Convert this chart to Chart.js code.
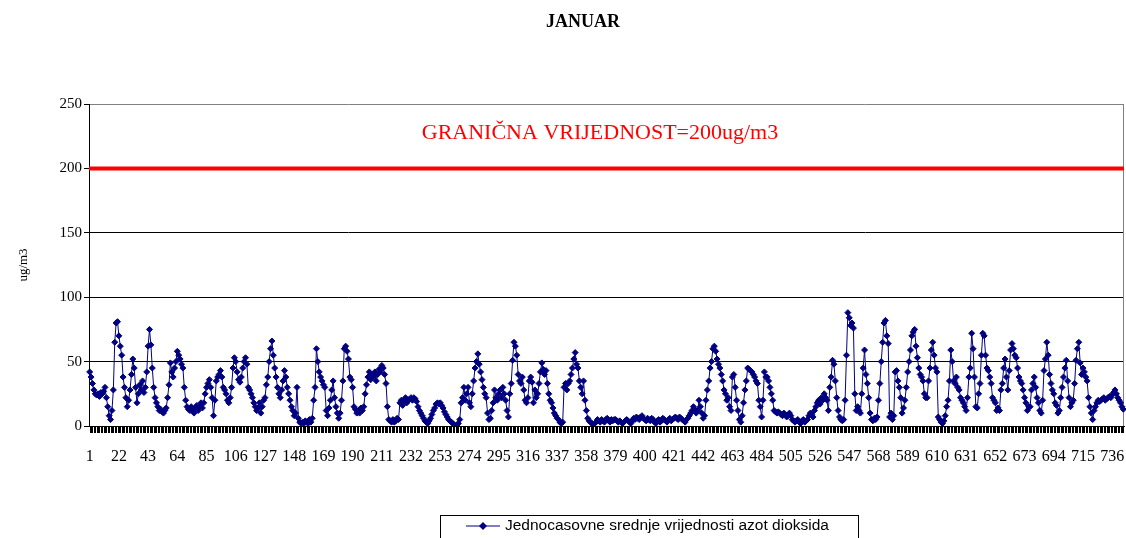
<!DOCTYPE html>
<html>
<head>
<meta charset="utf-8">
<title>JANUAR</title>
<script src="https://cdn.jsdelivr.net/npm/chart.js@4/dist/chart.umd.min.js"></script>
<style>
  html, body { margin: 0; padding: 0; background: #fff; }
</style>
</head>
<body>
<canvas id="chart" width="1126" height="538"></canvas>
<script>
// ===== DATA =====
const chartTitle = "JANUAR";
const yAxisTitle = "ug/m3";
const seriesName = "Jednocasovne srednje vrijednosti azot dioksida";
const limitValue = 200;
const limitText = "GRANIČNA VRIJEDNOST=200ug/m3";
const limitTextValue = 227;   // visina natpisa (ug/m3)

const yTicks = [0, 50, 100, 150, 200, 250];
const xTickLabels = [1, 22, 43, 64, 85, 106, 127, 148, 169, 190, 211, 232, 253, 274, 295, 316,
  337, 358, 379, 400, 421, 442, 463, 484, 505, 526, 547, 568, 589, 610, 631, 652, 673, 694, 715, 736];

// jednocasovne vrijednosti NO2, januar (744 sata), procitano sa grafika
const no2 = [
  // 1 - 78
  42,38,33,28,25, 24,25,23,26, 25,27,30,22, 15,8,5,12, 28,65,80,81,70,62,55,
  38,30,22,15,20, 28,40,52,45, 30,18,25,32, 28,35,26,30, 42,62,75,63,
  45,30,22,18,15, 12,13,11,10,12,14, 22,32,49,42, 38,45,50,58,55, 52,48,45,
  30,20,15,13,12,15, 12,10,14,16,
  // 79 - 153
  12,15,18,14, 18,25,30,33,36,30,22,8,20, 35,38,40,43,38, 30,28,25,20,18,22,30,
  45,53,50,42, 36,34,38,45,50,53,48, 30,28,25,22, 18,15,12,14,18,10,15,20,
  22,32, 38,50,60,66, 55,45,38, 30,25,22,28, 35,43,38, 30,25,20,15,12,8,10,30,6,3,2,
  // 154 - 228
  3,2,4,3,2,5,3,6, 20,30,60,50,42, 38,35,32,30, 12,8,14, 20,28,35,22, 15,10,6,10,
  20,35,60,62,58,52, 38,36,30, 15,13,10,12,10,14,12,15, 25,32,38,42,
  36,40,38,42,35,40,44,42,47,45,40, 33,15,5, 4,3,5,3,4,6,5, 18,20,16,20,22,
  // 229 - 303
  18,20,21,22,20, 22,21,19,15,12, 10,8,6,4,3,2,4, 6,9,12,14,17,18,17,
  18,16,14,11,9,7,5, 4,3,2,1,0,1,2, 5,18,22,30, 20,25,30,18,15,25,
  35,45,50,56,48,42, 36,30,25, 22,10,5, 6,12,18, 28,22,20,25, 28,22,30,25,20,12,7,25,
  // 304 - 378
  33,51,65,62,55, 40,35,33,38, 28,20,18,22,35, 38,34,18, 28,22,25,33, 42,49,44,40,43,
  33,25,20,18, 14,10,8,6,5,3,2,3, 30,33,28, 33,35,40,45,52,57, 48,45,35,30,25,35,
  20,12, 6,4,3,2,1,2,3,5,4,3,5,4,3,5,6,4,3,5,4,5,
  // 379 - 452
  5,4,3,4,3,2,3,4,5,4,3,2, 4,6,5,7,6,5,7,8,6,5,4,6,
  5,4,6,5,3,2,4,5,3,4,6,5,4,3,5,6,4,5, 6,7,6,5,7,6,5,4,3,5,
  6,8,10,12,15,13,10,12, 20,15,10,6,8,20, 28,35,45,50,60,62,58,52,
  // 453 - 527
  48,45,40,35, 28,25,20,22, 15,12, 38,40,30, 20,12, 5,3,8, 18,28,35, 45,44,43,42,
  40,38,35,33,20,15, 7,20,42,38, 38,35,30,25,20, 12,11,10,11, 10,9,8,10,9,7,8,10,8,
  5,4,3,4,5,3,2,4,5,3,4,5, 8,10,9,7,12, 15,18,20,17,22,
  // 528 - 602
  20,25,22,20,12, 30,38,51,48,35, 22,12, 7,5,4,5, 20,55,88,84,78,80,76, 25,12,15,12,10,
  25,45,59,40,33,22, 10,5,4,6,5,7, 20,33,50, 65,80,82,70,64, 7,10,5,8, 42,43,35,30,
  22,10,14, 20,30,42,50, 59,70,73,75, 62,53,45,40, 38,35,25,22,
  // 603 - 676
  22,35,45,59,65,55,45,42, 7,5,3,2,4, 8,15,20,35, 59,50,35,33,38, 30,28,22,20,18,
  15,12,22, 38,45,72,60, 38,15,14, 25,33,55,72,70, 55,45,43, 38,33,22,20, 18,12,14,12,
  28,33,45,52, 38,28,43, 59,64,60, 55,53,45,38,35, 33,28,22,18,12,15,
  // 677 - 744
  15,28,33,38,30, 22,18,12,10, 20,43,52,65,55, 40,33,28,25, 18,16,10,12,22, 30,38,45,
  51,35, 22,15,18,20, 33,51,60,65, 49,40,45,42, 38,35,22,15, 10,5, 12,15,18,20,19,
  20,21,22,20,21,22,23,22,24,26,28,25,22, 20,18,15,13
];

// kategorije = redni broj sata
const hours = no2.map((_, i) => i + 1);

const navy = '#000080';
const serif = "'Liberation Serif', 'Times New Roman', serif";
const sans = "'Liberation Sans', Arial, sans-serif";

// ===== PLUGIN: naslov, granicna vrijednost, okvir, crtice na x osi =====
const limitPlugin = {
  id: 'limitLine',
  beforeDatasetsDraw(chart) {
    const { ctx, chartArea, scales } = chart;
    const y = scales.y.getPixelForValue(limitValue);
    ctx.save();

    // naslov
    ctx.fillStyle = '#000';
    ctx.font = "bold 18px " + serif;
    ctx.textAlign = 'center';
    ctx.textBaseline = 'middle';
    ctx.fillText(chartTitle, 583, 22);

    // desni okvir (sivi)
    ctx.strokeStyle = '#808080';
    ctx.lineWidth = 1;
    ctx.beginPath();
    ctx.moveTo(chartArea.right - 0.5, chartArea.top);
    ctx.lineTo(chartArea.right - 0.5, chartArea.bottom);
    ctx.stroke();

    // crtice za svaku kategoriju ispod x ose
    ctx.strokeStyle = '#000';
    ctx.beginPath();
    scales.x.ticks.forEach((t, i) => {
      const x = Math.round(scales.x.getPixelForTick(i)) + 0.5;
      ctx.moveTo(x, chartArea.bottom);
      ctx.lineTo(x, chartArea.bottom + 7);
    });
    ctx.stroke();

    // crvena linija
    ctx.strokeStyle = '#ff0000';
    ctx.lineWidth = 4;
    ctx.beginPath();
    ctx.moveTo(chartArea.left, y);
    ctx.lineTo(chartArea.right, y);
    ctx.stroke();

    // natpis
    ctx.fillStyle = '#ff0000';
    ctx.font = "22px " + serif;
    ctx.fillText(limitText, 600, scales.y.getPixelForValue(limitTextValue));
    ctx.restore();
  }
};

// ===== PLUGIN: legenda sa okvirom =====
const legendPlugin = {
  id: 'boxLegend',
  afterDraw(chart) {
    const { ctx } = chart;
    ctx.save();
    ctx.strokeStyle = '#000';
    ctx.lineWidth = 1;
    ctx.strokeRect(440.5, 515.5, 418, 40);
    const ly = 526;
    ctx.strokeStyle = navy;
    ctx.beginPath();
    ctx.moveTo(466, ly);
    ctx.lineTo(500, ly);
    ctx.stroke();
    ctx.fillStyle = navy;
    ctx.beginPath();
    ctx.moveTo(483, ly - 4);
    ctx.lineTo(487, ly);
    ctx.lineTo(483, ly + 4);
    ctx.lineTo(479, ly);
    ctx.closePath();
    ctx.fill();
    ctx.fillStyle = '#000';
    ctx.font = "15.5px " + sans;
    ctx.textAlign = 'left';
    ctx.textBaseline = 'middle';
    ctx.fillText(seriesName, 505, ly);
    ctx.restore();
  }
};

// ===== CHART =====
function initChart() {
  const ctx = document.getElementById('chart').getContext('2d');

  new Chart(ctx, {
    type: 'line',
    data: {
      labels: hours,
      datasets: [{
        label: seriesName,
        data: no2,
        borderColor: navy,
        backgroundColor: navy,
        borderWidth: 1,
        tension: 0,
        pointStyle: 'rectRot',
        pointRadius: 3,
        pointBackgroundColor: navy,
        pointBorderColor: navy,
        pointBorderWidth: 1
      }]
    },
    options: {
      responsive: false,
      animation: false,
      layout: {
        autoPadding: false,
        padding: { left: 15, right: 2, top: 104, bottom: 72 }
      },
      plugins: {
        legend: { display: false },
        tooltip: { enabled: false },
        title: { display: false }
      },
      scales: {
        x: {
          offset: true,
          grid: {
            drawOnChartArea: false,
            drawTicks: true,
            tickLength: 21,
            tickColor: 'rgba(0,0,0,0)',
            offset: false
          },
          border: { color: '#000', width: 1 },
          ticks: {
            autoSkip: false,
            maxRotation: 0,
            minRotation: 0,
            padding: 0,
            color: '#000',
            font: { family: serif, size: 16 },
            callback: (val, idx) => xTickLabels.includes(hours[idx]) ? String(hours[idx]) : ''
          },
          afterFit: s => { s.height = 40; }
        },
        y: {
          min: yTicks[0],
          max: yTicks[yTicks.length - 1],
          afterBuildTicks: s => { s.ticks = yTicks.map(v => ({ value: v })); },
          grid: {
            color: c => c.tick && c.tick.value === 250 ? '#808080' : '#000',
            tickColor: '#000',
            tickLength: 5,
            drawTicks: true
          },
          border: { color: '#000', width: 1 },
          ticks: {
            padding: 2,
            color: '#000',
            font: { family: serif, size: 15 }
          },
          title: {
            display: true,
            text: yAxisTitle,
            color: '#000',
            font: { family: serif, size: 13 },
            padding: { top: 1, bottom: 0 }
          },
          afterFit: s => { s.width = 74; }
        }
      }
    },
    plugins: [limitPlugin, legendPlugin]
  });
}

document.addEventListener("DOMContentLoaded", () => {
  initChart();
});
</script>
</body>
</html>
